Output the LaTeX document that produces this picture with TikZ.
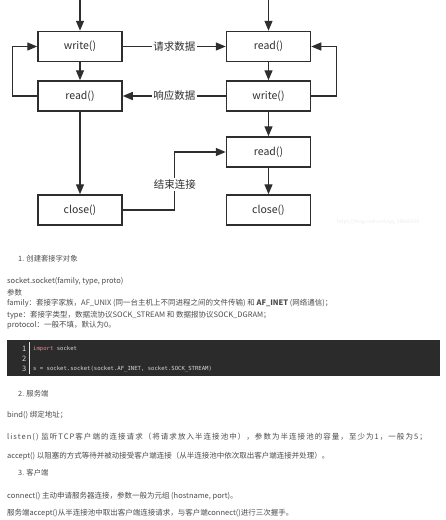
\documentclass[tikz,border=0pt]{standalone}
\usepackage{fontspec}
\setmainfont{Noto Sans CJK SC}
\newfontfamily\spreadfont{Noto Sans CJK SC}[LetterSpace=14]
\newfontfamily\codefont{DejaVu Sans Mono}
\usetikzlibrary{arrows.meta}
\definecolor{lineC}{HTML}{2E2E2E}
\definecolor{txtC}{HTML}{4A4A4A}
\definecolor{codeBg}{HTML}{2B2B2B}
\definecolor{codeTxt}{HTML}{D8D8D8}
\definecolor{kwC}{HTML}{D9909C}
\definecolor{wmC}{HTML}{EBEBEB}
\tikzset{
  fbox/.style={draw=lineC, line width=1.5pt, minimum width=84pt, minimum height=30pt, inner sep=0pt, font=\fontsize{10.5}{12}\selectfont, text=lineC},
  conn/.style={draw=lineC, line width=1.4pt, -{Triangle[length=10pt,width=8pt]}},
  elabel/.style={fill=white, inner sep=1.5pt, font=\fontsize{10.5}{12}\selectfont, text=lineC},
  body/.style={anchor=west, inner sep=0pt, font=\fontsize{7.5}{9}\selectfont, text=txtC},
  head/.style={anchor=west, inner sep=0pt, font=\fontsize{7.3}{9}\selectfont, text=txtC},
  codeline/.style={anchor=west, inner sep=0pt, font=\codefont\fontsize{5.6}{7}\selectfont, text=codeTxt},
  lnum/.style={anchor=east, inner sep=0pt, font=\fontsize{7.5}{8}\selectfont, text=codeTxt}
}
\begin{document}
\begin{tikzpicture}[x=1pt,y=-1pt]
\useasboundingbox (0,0) rectangle (445,520);
% boxes
\node[fbox] (lw) at (80,46.5) {write()};
\node[fbox] (lr) at (80,96) {read()};
\node[fbox] (lc) at (80,210) {close()};
\node[fbox] (rr) at (268.5,46.5) {read()};
\node[fbox] (rw) at (268.5,96) {write()};
\node[fbox] (rr2) at (268.5,152) {read()};
\node[fbox] (rc) at (268.5,210) {close()};
\coordinate (ta) at (80,0);
\coordinate (tb) at (268.5,0);
% connectors
\draw[conn] (ta) -- (lw.north);
\draw[conn] (tb) -- (rr.north);
\draw[conn] (lw.south) -- (lr.north);
\draw[conn] (rr.south) -- (rw.north);
\draw[conn] (rw.south) -- (rr2.north);
\draw[conn] (rr2.south) -- (rc.north);
\draw[conn] (lr.south) -- (lc.north);
\draw[conn] (lr.west) -- ++(-25,0) |- (lw.west);
\draw[conn] (rw.east) -- ++(25,0) |- (rr.east);
\draw[conn] (lw.east) -- node[elabel] {请求数据} (rr.west);
\draw[conn] (rw.west) -- node[elabel] {响应数据} (lr.east);
\draw[conn] (lc.east) -- ++(52,0) |- node[elabel, pos=0.22] {结束连接} (rr2.west);
% watermark
\node[inner sep=0pt, font=\fontsize{5}{6}\selectfont, text=wmC] (wm) at (378,222) {https://blog.csdn.net/qq\_38066908};
% text section 1
\node[head] (t1) at (18,259) {1. 创建套接字对象};
\node[body] (t2) at (7,281.5) {socket.socket(family, type, proto)};
\node[body] (t3) at (7,292.5) {参数};
\node[body] (t4) at (7,303.5) {family：套接字家族，AF\_UNIX (同一台主机上不同进程之间的文件传输) 和 \textbf{AF\_INET} (网络通信)；};
\node[body] (t5) at (7,315) {type：套接字类型，数据流协议SOCK\_STREAM 和 数据报协议SOCK\_DGRAM；};
\node[body] (t6) at (7,325.5) {protocol：一般不填，默认为0。};
% code block
\fill[codeBg] (7,340) rectangle (440,376);
\draw[draw=codeTxt!70, line width=0.6pt] (29.5,342) -- (29.5,374);
\node[lnum] (n1) at (26.5,349) {1};
\node[lnum] (n2) at (26.5,358.5) {2};
\node[lnum] (n3) at (26.5,369) {3};
\node[codeline] (c1) at (33,349) {\textcolor{kwC}{import} socket};
\node[codeline] (c3) at (33,369) {s = socket.socket(socket.AF\_INET, socket.SOCK\_STREAM)};
% section 2
\node[head] (s2) at (18,393.5) {2. 服务端};
\node[body] (b1) at (7,415.5) {bind() 绑定地址；};
\node[body] (b2) at (7,437.5) {\spreadfont listen() 监听TCP客户端的连接请求（将请求放入半连接池中），参数为半连接池的容量，至少为1，一般为5；};
\node[body] (b3) at (7,456.5) {accept() 以阻塞的方式等待并被动接受客户端连接（从半连接池中依次取出客户端连接并处理）。};
% section 3
\node[head] (s3) at (18,472.5) {3. 客户端};
\node[body] (k1) at (7,496) {connect() 主动申请服务器连接，参数一般为元组 (hostname, port)。};
\node[body] (k2) at (7,513) {服务端accept()从半连接池中取出客户端连接请求，与客户端connect()进行三次握手。};
\end{tikzpicture}
\end{document}
